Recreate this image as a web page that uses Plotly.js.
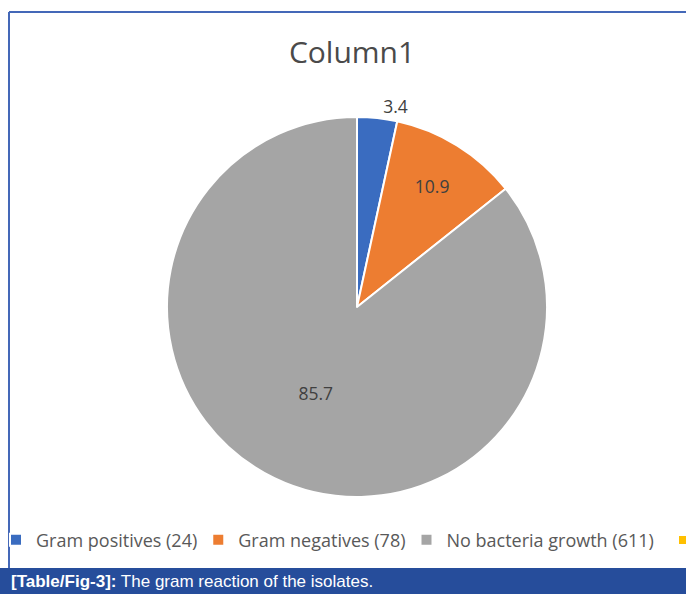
<!DOCTYPE html>
<html>
<head>
<meta charset="utf-8">
<script src="https://cdn.plot.ly/plotly-3.0.1.min.js"></script>
<style>html,body{margin:0;padding:0;background:#fff;} #chart{width:686px;height:594px;}</style>
</head>
<body>
<div id="chart"></div>
<script>
const categories = ["Gram positives (24)", "Gram negatives (78)", "No bacteria growth (611)"];
const percentValues = [3.4, 10.9, 85.7];
const labelTexts = ["3.4", "10.9", "85.7"];
const sliceColors = ["#3a6cc0", "#ed7d31", "#a5a5a5"];
const textPositions = ["outside", "inside", "inside"];

const W = 686, H = 594;
const cx = 357, cy = 307, r = 190;
const px = v => v / W;
const py = v => 1 - v / H;

const trace = {
  type: "pie",
  labels: categories,
  values: percentValues,
  text: labelTexts,
  textinfo: "text",
  textposition: textPositions,
  insidetextorientation: "horizontal",
  sort: false,
  direction: "clockwise",
  rotation: 0,
  marker: { colors: sliceColors, line: { color: "#ffffff", width: 2 } },
  textfont: { family: "Open Sans, sans-serif", size: 17.5, color: "#404040" },
  insidetextfont: { family: "Open Sans, sans-serif", size: 17.5, color: "#404040" },
  outsidetextfont: { family: "Open Sans, sans-serif", size: 17.5, color: "#404040" },
  domain: { x: [px(cx - r), px(cx + r)], y: [py(cy + r), py(cy - r)] },
  hoverinfo: "label+value"
};

const layout = {
  width: W, height: H,
  margin: { l: 0, r: 0, t: 0, b: 0 },
  paper_bgcolor: "#ffffff",
  title: {
    text: "Column1",
    font: { family: "Open Sans, sans-serif", size: 30, color: "#4a4a4a" },
    x: px(352), xanchor: "center", y: py(52), yanchor: "middle"
  },
  showlegend: true,
  legend: {
    orientation: "h",
    x: 0, xanchor: "left",
    y: py(540), yanchor: "middle",
    indentation: -4,
    font: { family: "Open Sans, sans-serif", size: 18, color: "#595959" },
    itemclick: false, bgcolor: "rgba(0,0,0,0)"
  },
  shapes: [
    { type: "line", xref: "paper", yref: "paper", x0: px(9), x1: px(9), y0: py(12), y1: py(568), line: { color: "#4468b8", width: 2 } },
    { type: "line", xref: "paper", yref: "paper", x0: px(9), x1: 1, y0: py(12), y1: py(12), line: { color: "#4468b8", width: 2 } },
    { type: "rect", xref: "paper", yref: "paper", x0: px(679), x1: px(686), y0: py(544), y1: py(536), fillcolor: "#ffc000", line: { width: 0 } },
    { type: "rect", xref: "paper", yref: "paper", x0: 0, x1: 1, y0: 0, y1: py(568), fillcolor: "#264d9b", line: { width: 0 } }
  ],
  annotations: [
    { xref: "paper", yref: "paper", x: px(9), y: py(581), xanchor: "left", yanchor: "middle", showarrow: false,
      text: "<b>[Table/Fig-3]:</b> The gram reaction of the isolates.",
      font: { family: "Liberation Sans, Arial, sans-serif", size: 17, color: "#ffffff" } }
  ]
};

Plotly.newPlot("chart", [trace], layout, { displayModeBar: false, staticPlot: true });
</script>
</body>
</html>
